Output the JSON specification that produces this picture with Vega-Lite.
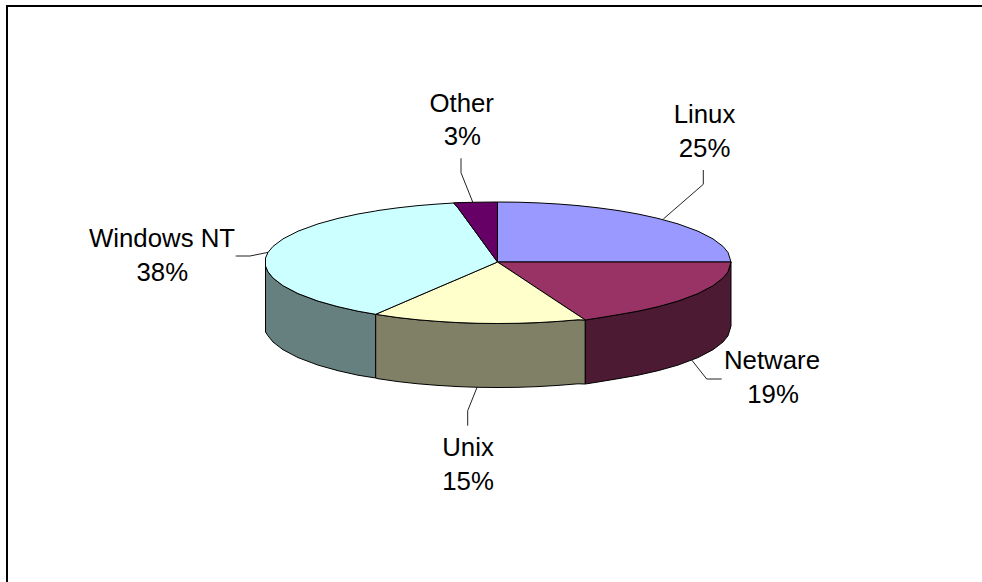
{
"$schema":"https://vega.github.io/schema/vega-lite/v6.json",
"width":982,"height":582,"padding":0,
"autosize":{"type":"none"},
"background":"white",
"config":{"view":{"stroke":null}},
"datasets":{
"faces":[
{"face":"Windows NT side","x":265.5,"top":266,"bottom":332},{"face":"Windows NT side","x":268,"top":271.8,"bottom":335.8},{"face":"Windows NT side","x":273,"top":278,"bottom":342},{"face":"Windows NT side","x":283,"top":285.7,"bottom":349.7},{"face":"Windows NT side","x":298,"top":293.6,"bottom":357.6},{"face":"Windows NT side","x":318,"top":301.1,"bottom":365.1},{"face":"Windows NT side","x":338,"top":306.7,"bottom":370.7},{"face":"Windows NT side","x":358,"top":311.2,"bottom":375.2},{"face":"Windows NT side","x":375.7,"top":314.3,"bottom":378},
{"face":"Unix side","x":375.7,"top":314.3,"bottom":378},{"face":"Unix side","x":378,"top":314.7,"bottom":378.7},{"face":"Unix side","x":398,"top":317.6,"bottom":381.6},{"face":"Unix side","x":418,"top":319.8,"bottom":383.8},{"face":"Unix side","x":438,"top":321.4,"bottom":385.4},{"face":"Unix side","x":458,"top":322.6,"bottom":386.6},{"face":"Unix side","x":478,"top":323.3,"bottom":387.3},{"face":"Unix side","x":498,"top":323.5,"bottom":387.5},{"face":"Unix side","x":518,"top":323.3,"bottom":387.3},{"face":"Unix side","x":538,"top":322.6,"bottom":386.6},{"face":"Unix side","x":558,"top":321.4,"bottom":385.4},{"face":"Unix side","x":578,"top":319.8,"bottom":383.8},{"face":"Unix side","x":585.3,"top":320,"bottom":384},
{"face":"Netware side","x":585.3,"top":320,"bottom":384},{"face":"Netware side","x":598,"top":318,"bottom":382},{"face":"Netware side","x":618,"top":314.7,"bottom":378.7},{"face":"Netware side","x":638,"top":311.2,"bottom":375.2},{"face":"Netware side","x":658,"top":306.7,"bottom":370.7},{"face":"Netware side","x":678,"top":301.1,"bottom":365.1},{"face":"Netware side","x":698,"top":293.6,"bottom":357.6},{"face":"Netware side","x":713,"top":285.7,"bottom":349.7},{"face":"Netware side","x":723,"top":278,"bottom":342},{"face":"Netware side","x":728,"top":271.8,"bottom":335.8},{"face":"Netware side","x":731,"top":262,"bottom":326},
{"face":"Linux","x":497.5,"top":202,"bottom":262},{"face":"Linux","x":518,"top":202.2,"bottom":262},{"face":"Linux","x":538,"top":202.9,"bottom":262},{"face":"Linux","x":558,"top":204,"bottom":262},{"face":"Linux","x":578,"top":205.6,"bottom":262},{"face":"Linux","x":598,"top":207.8,"bottom":262},{"face":"Linux","x":618,"top":210.5,"bottom":262},{"face":"Linux","x":638,"top":214,"bottom":262},{"face":"Linux","x":658,"top":218.4,"bottom":262},{"face":"Linux","x":678,"top":223.9,"bottom":262},{"face":"Linux","x":698,"top":231.2,"bottom":262},{"face":"Linux","x":713,"top":238.9,"bottom":262},{"face":"Linux","x":723,"top":246.4,"bottom":262},{"face":"Linux","x":728,"top":252.4,"bottom":262},{"face":"Linux","x":731,"top":262,"bottom":262},
{"face":"Netware","x":497.5,"top":262,"bottom":262},{"face":"Netware","x":518,"top":262,"bottom":275.5},{"face":"Netware","x":538,"top":262,"bottom":288.8},{"face":"Netware","x":558,"top":262,"bottom":302},{"face":"Netware","x":578,"top":262,"bottom":315.2},{"face":"Netware","x":585.3,"top":262,"bottom":320},{"face":"Netware","x":598,"top":262,"bottom":318},{"face":"Netware","x":618,"top":262,"bottom":314.7},{"face":"Netware","x":638,"top":262,"bottom":311.2},{"face":"Netware","x":658,"top":262,"bottom":306.7},{"face":"Netware","x":678,"top":262,"bottom":301.1},{"face":"Netware","x":698,"top":262,"bottom":293.6},{"face":"Netware","x":713,"top":262,"bottom":285.7},{"face":"Netware","x":723,"top":262,"bottom":278},{"face":"Netware","x":728,"top":262,"bottom":271.8},{"face":"Netware","x":731,"top":262,"bottom":262},
{"face":"Unix","x":375.7,"top":314.3,"bottom":314.3},{"face":"Unix","x":378,"top":313.3,"bottom":314.7},{"face":"Unix","x":398,"top":304.7,"bottom":317.6},{"face":"Unix","x":418,"top":296.1,"bottom":319.8},{"face":"Unix","x":438,"top":287.5,"bottom":321.4},{"face":"Unix","x":458,"top":279,"bottom":322.6},{"face":"Unix","x":478,"top":270.4,"bottom":323.3},{"face":"Unix","x":497.5,"top":262,"bottom":323.5},{"face":"Unix","x":518,"top":275.5,"bottom":323.3},{"face":"Unix","x":538,"top":288.8,"bottom":322.6},{"face":"Unix","x":558,"top":302,"bottom":321.4},{"face":"Unix","x":578,"top":315.2,"bottom":319.8},{"face":"Unix","x":585.3,"top":320,"bottom":320},
{"face":"Windows NT","x":265.5,"top":258,"bottom":266},{"face":"Windows NT","x":268,"top":252.4,"bottom":271.8},{"face":"Windows NT","x":273,"top":246.4,"bottom":278},{"face":"Windows NT","x":283,"top":238.9,"bottom":285.7},{"face":"Windows NT","x":298,"top":231.2,"bottom":293.6},{"face":"Windows NT","x":318,"top":223.9,"bottom":301.1},{"face":"Windows NT","x":338,"top":218.4,"bottom":306.7},{"face":"Windows NT","x":358,"top":214,"bottom":311.2},{"face":"Windows NT","x":375.7,"top":211,"bottom":314.3},{"face":"Windows NT","x":378,"top":210.5,"bottom":313.3},{"face":"Windows NT","x":398,"top":207.8,"bottom":304.7},{"face":"Windows NT","x":418,"top":205.6,"bottom":296.1},{"face":"Windows NT","x":438,"top":204,"bottom":287.5},{"face":"Windows NT","x":453.7,"top":203,"bottom":280.8},{"face":"Windows NT","x":458,"top":207.9,"bottom":279},{"face":"Windows NT","x":478,"top":235.3,"bottom":270.4},{"face":"Windows NT","x":497.5,"top":262,"bottom":262},
{"face":"Other","x":453.7,"top":202.8,"bottom":203},{"face":"Other","x":458,"top":202.6,"bottom":207.9},{"face":"Other","x":478,"top":202.2,"bottom":235.3},{"face":"Other","x":497.5,"top":202,"bottom":262}
],
"leaders":[
{"label":"Linux","x":703.3,"y":170},{"label":"Linux","x":703.3,"y":184.3},{"label":"Linux","x":663.3,"y":219},
{"label":"Other","x":461,"y":158.3},{"label":"Other","x":461,"y":172.7},{"label":"Other","x":472.7,"y":202},
{"label":"Netware","x":691.7,"y":360},{"label":"Netware","x":706.7,"y":379},{"label":"Netware","x":721.7,"y":379},
{"label":"Unix","x":477.3,"y":386.7},{"label":"Unix","x":467.7,"y":410.7},{"label":"Unix","x":467.7,"y":425.7},
{"label":"Windows NT","x":268.3,"y":252.3},{"label":"Windows NT","x":250,"y":256},{"label":"Windows NT","x":235.7,"y":256}
],
"labels":[
{"text":"Other","x":461.7,"y":111.7},{"text":"3%","x":462.3,"y":145},
{"text":"Linux","x":704.5,"y":123.3},{"text":"25%","x":704.5,"y":157.3},
{"text":"Netware","x":772,"y":369.3},{"text":"19%","x":773,"y":403.3},
{"text":"Unix","x":468,"y":456},{"text":"15%","x":468,"y":490},
{"text":"Windows NT","x":162,"y":246.7},{"text":"38%","x":162.3,"y":281}
],
"frame":[
{"edge":"left","x":7,"y":5},{"edge":"left","x":7,"y":582},
{"edge":"top","x":6,"y":6},{"edge":"top","x":982,"y":6}
]
},
"layer":[
{"data":{"name":"frame"},"mark":{"type":"line","stroke":"black","strokeWidth":2,"interpolate":"linear"},
"encoding":{"x":{"field":"x","type":"quantitative","scale":{"domain":[0,982],"nice":false,"zero":false},"axis":null},
"y":{"field":"y","type":"quantitative","scale":{"domain":[582,0],"nice":false,"zero":false},"axis":null},"detail":{"field":"edge"}}},
{"data":{"name":"leaders"},"mark":{"type":"line","stroke":"#222222","strokeWidth":1},
"encoding":{"x":{"field":"x","type":"quantitative"},"y":{"field":"y","type":"quantitative"},"detail":{"field":"label"},"order":{"field":"ord"}}},
{"data":{"name":"faces"},"mark":{"type":"area","stroke":"black","strokeWidth":1,"opacity":1,"fillOpacity":1,"interpolate":"linear"},
"encoding":{"x":{"field":"x","type":"quantitative"},"y":{"field":"top","type":"quantitative"},"y2":{"field":"bottom"},
"color":{"field":"face","type":"nominal","legend":null,"scale":{"domain":["Windows NT side","Unix side","Netware side","Linux","Netware","Unix","Windows NT","Other"],"range":["#668080","#808066","#4D1A33","#9999FF","#993366","#FFFFCC","#CCFFFF","#660066"]}}}},
{"data":{"name":"labels"},"mark":{"type":"text","font":"Liberation Sans","fontSize":25.8,"fill":"black","align":"center","baseline":"alphabetic"},
"encoding":{"x":{"field":"x","type":"quantitative"},"y":{"field":"y","type":"quantitative"},"text":{"field":"text"}}}
]
}
